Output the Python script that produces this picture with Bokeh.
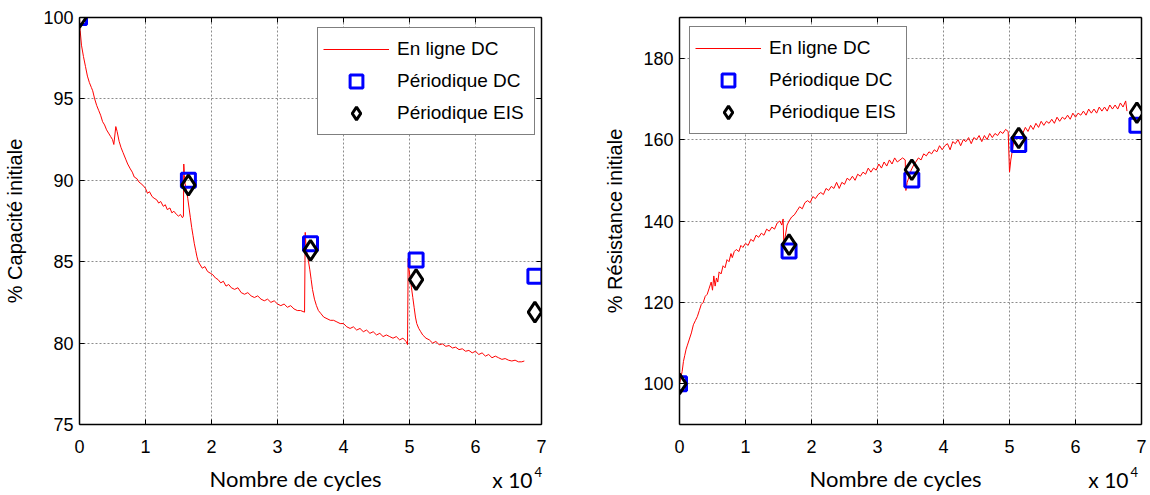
from bokeh.plotting import figure
from bokeh.layouts import row, column
from bokeh.models import (LinearAxis, Label, Legend, LegendItem, FixedTicker, Range1d,
                          CustomJSTickFormatter)
from bokeh.embed import file_html
from bokeh.resources import INLINE

# ---------------- data (x in units of 10^4 cycles) ----------------
cap_line_x = [0, 0.01, 0.03, 0.06, 0.09, 0.12, 0.15, 0.18, 0.2, 0.23, 0.26, 0.29, 0.32, 0.35, 0.38,
              0.41, 0.44, 0.47, 0.5, 0.52, 0.55, 0.57, 0.6, 0.63, 0.66, 0.7, 0.73, 0.77, 0.8, 0.83,
              0.87, 0.9, 0.93, 0.96, 1.0, 1.03, 1.06, 1.1, 1.13, 1.17, 1.2, 1.23, 1.27, 1.3, 1.33,
              1.37, 1.4, 1.43, 1.47, 1.5, 1.53, 1.56, 1.575, 1.58, 1.59, 1.6, 1.62, 1.64, 1.66, 1.68,
              1.7, 1.72, 1.74, 1.76, 1.78, 1.8, 1.83, 1.86, 1.9, 1.94, 1.98, 2.02, 2.06, 2.1, 2.14,
              2.18, 2.22, 2.26, 2.3, 2.35, 2.4, 2.45, 2.5, 2.55, 2.6, 2.65, 2.7, 2.75, 2.8, 2.85,
              2.9, 2.95, 3.0, 3.05, 3.1, 3.15, 3.2, 3.25, 3.3, 3.35, 3.41, 3.42, 3.43, 3.45, 3.47,
              3.49, 3.51, 3.53, 3.56, 3.59, 3.62, 3.66, 3.7, 3.75, 3.8, 3.85, 3.9, 3.95, 4.0, 4.05,
              4.1, 4.15, 4.2, 4.25, 4.3, 4.35, 4.4, 4.45, 4.5, 4.55, 4.6, 4.65, 4.7, 4.75, 4.8,
              4.85, 4.9, 4.95, 4.97, 4.98, 4.99, 5.01, 5.03, 5.05, 5.07, 5.09, 5.11, 5.14, 5.17,
              5.2, 5.25, 5.3, 5.35, 5.4, 5.45, 5.5, 5.55, 5.6, 5.65, 5.7, 5.75, 5.8, 5.85, 5.9,
              5.95, 6.0, 6.05, 6.1, 6.15, 6.2, 6.25, 6.3, 6.35, 6.4, 6.45, 6.5, 6.55, 6.6, 6.65,
              6.7, 6.74]
cap_line_y = [100, 99.2, 98.3, 97.6, 97.0, 96.4, 96.0, 95.7, 95.5, 95.0, 94.6, 94.3, 94.0, 93.6, 93.4,
              93.1, 92.9, 92.7, 92.5, 92.2, 93.3, 93.0, 92.4, 92.0, 91.7, 91.3, 91.0, 90.7, 90.5, 90.2,
              90.1, 89.9, 89.8, 89.7, 89.5, 89.2, 89.3, 89.0, 88.9, 88.8, 88.6, 88.7, 88.4, 88.5, 88.2,
              88.3, 88.0, 88.1, 87.9, 87.8, 87.9, 87.7, 87.8, 91.0, 90.3, 89.8, 89.4, 88.9, 88.3, 87.7,
              87.1, 86.6, 86.1, 85.7, 85.3, 85.0, 84.8, 84.6, 84.7, 84.4, 84.3, 84.2, 84.0, 83.9, 83.7,
              83.8, 83.5, 83.6, 83.4, 83.3, 83.4, 83.1, 83.0, 83.1, 82.9, 82.8, 82.9, 82.7, 82.6, 82.7,
              82.5, 82.6, 82.4, 82.3, 82.4, 82.2, 82.3, 82.1, 82.0, 82.0, 81.9, 86.8, 86.1, 85.5, 85.0,
              84.5, 83.9, 83.3, 82.7, 82.3, 82.0, 81.8, 81.6, 81.5, 81.4, 81.4, 81.3, 81.2, 81.2, 81.0,
              80.9, 81.0, 80.8, 80.9, 80.7, 80.8, 80.6, 80.7, 80.5, 80.6, 80.4, 80.5, 80.4, 80.3, 80.4,
              80.2, 80.3, 80.1, 79.9, 85.2, 84.6, 84.0, 83.4, 82.8, 82.2, 81.6, 81.2, 80.9, 80.7,
              80.5, 80.3, 80.2, 80.0, 80.1, 79.9, 79.95, 79.8, 79.85, 79.7, 79.75, 79.6, 79.65, 79.5, 79.55,
              79.4, 79.5, 79.3, 79.4, 79.2, 79.3, 79.1, 79.2, 79.1, 79.0, 79.05, 78.95, 78.9, 78.95, 78.85,
              78.85, 78.9]

cap_dc_x = [0, 1.65, 3.5, 5.1, 6.9]
cap_dc_y = [100, 90.0, 86.1, 85.1, 84.1]
cap_eis_x = [0, 1.65, 3.5, 5.1, 6.9]
cap_eis_y = [100, 89.7, 85.7, 83.9, 81.9]

res_line_x = [0, 0.02, 0.04, 0.06, 0.08, 0.1, 0.12, 0.15, 0.18, 0.21, 0.24, 0.27, 0.3, 0.33, 0.36,
              0.39, 0.42, 0.45, 0.48, 0.5, 0.52, 0.54, 0.56, 0.58, 0.6, 0.63, 0.66, 0.69, 0.72, 0.75,
              0.78, 0.8, 0.83, 0.86, 0.9, 0.93, 0.96, 1.0, 1.04, 1.08, 1.12, 1.16, 1.2, 1.24, 1.28,
              1.32, 1.36, 1.4, 1.44, 1.48, 1.52, 1.55, 1.57, 1.58, 1.6, 1.63, 1.66, 1.7, 1.74, 1.78,
              1.82, 1.86, 1.9, 1.94, 1.98, 2.02, 2.06, 2.1, 2.14, 2.18, 2.22, 2.26, 2.3, 2.34, 2.38,
              2.42, 2.46, 2.5, 2.54, 2.58, 2.62, 2.66, 2.7, 2.74, 2.78, 2.82, 2.86, 2.9, 2.94, 2.98,
              3.02, 3.06, 3.1, 3.14, 3.18, 3.22, 3.26, 3.3, 3.34, 3.38, 3.42, 3.43, 3.45, 3.48, 3.51,
              3.54, 3.58, 3.62, 3.66, 3.7, 3.74, 3.78, 3.82, 3.86, 3.9, 3.94, 3.98, 4.02, 4.06, 4.1,
              4.14, 4.18, 4.22, 4.26, 4.3, 4.34, 4.38, 4.42, 4.46, 4.5, 4.54, 4.58, 4.62, 4.66, 4.7,
              4.74, 4.78, 4.82, 4.86, 4.9, 4.94, 4.98, 5.0, 5.02, 5.05, 5.08, 5.12, 5.16, 5.2, 5.24,
              5.28, 5.32, 5.36, 5.4, 5.44, 5.48, 5.52, 5.56, 5.6, 5.64, 5.68, 5.72, 5.76, 5.8, 5.84,
              5.88, 5.92, 5.96, 6.0, 6.04, 6.08, 6.12, 6.16, 6.2, 6.24, 6.28, 6.32, 6.36, 6.4, 6.44,
              6.48, 6.52, 6.56, 6.6, 6.64, 6.68, 6.72, 6.76, 6.78]
res_line_y = [100, 101.5, 103, 105.5, 107, 108.5, 109.5, 111, 112.5, 114.5, 115.5, 116.5, 118, 119.5, 120,
              121.5, 122, 123.5, 125, 123, 126.5, 124, 126, 125, 127.5, 127, 129, 128.5, 130.5, 130,
              132, 131, 132.5, 133, 132.5, 134, 133.5, 134.5, 134, 135.5, 135, 136.5, 136, 137, 136.5,
              138, 137.5, 138.5, 138, 139.5, 140, 139, 140.5, 134.5, 136, 139, 140, 141, 141.5, 142.5,
              143.5, 143, 144.5, 145, 144.5, 146, 145.5, 146.5, 147, 146.5, 148, 147.5, 148.5, 148, 149.5,
              148, 149.5, 149, 150.5, 150, 151, 150, 151.5, 151, 152, 151.5, 153, 152, 153, 152.5,
              154, 153, 154.5, 153.5, 155, 154, 155.5, 154.5, 155, 155.5, 155, 147.5, 149.5, 151, 152.5,
              153.5, 154.5, 155.5, 155, 156.5, 156, 157, 156.5, 157.5, 157, 158.5, 157.5, 158.5, 159, 157.5,
              159.5, 159, 160, 158.5, 160, 159.5, 160.5, 159, 160.5, 160, 161, 159.5, 161, 160, 161.5,
              160.5, 161.5, 161, 162, 161.5, 162.5, 162, 152, 155, 158, 161, 162, 162.5, 161.5, 163,
              162, 163.5, 162.5, 164, 163, 164.5, 163.5, 164.5, 164, 165, 164, 165.5, 164.5, 165.5, 165,
              166, 165, 166.5, 165.5, 166.5, 166, 167, 166, 167.5, 166.5, 167.5, 166.5, 168, 167, 168,
              167, 168.5, 167.5, 168.5, 167.5, 169, 168, 169.5, 167]

res_dc_x = [0, 1.66, 3.52, 5.14, 6.93]
res_dc_y = [100, 132.6, 150.1, 158.8, 163.5]
res_eis_x = [0, 1.66, 3.52, 5.14, 6.93]
res_eis_y = [100, 134.2, 152.6, 160.4, 166.6]

x_ticks = [0, 1, 2, 3, 4, 5, 6, 7]
cap_ticks = [75, 80, 85, 90, 95, 100]
res_ticks = [100, 120, 140, 160, 180]

labels = ["En ligne DC", "Périodique DC", "Périodique EIS"]
x_title = "Nombre de cycles"
x_scale_text = "x 10"
x_scale_exp = "4"

TICK_FONT = "Liberation Sans"
XLABEL_FONT = "Lato"
H = 462       # height of the two plot panels
STRIP_H = 32  # strip below them with the x titles


def make_panel(width, border_left, border_right, y_range, y_ticks, ylabel,
               lx, ly, sx, sy, ex, ey, legend_loc):
    p = figure(width=width, height=H, output_backend="svg", toolbar_location=None,
               x_range=Range1d(0, 7), y_range=Range1d(*y_range),
               min_border_left=border_left, min_border_right=border_right,
               min_border_top=17, min_border_bottom=H - 17 - 407,
               y_axis_label=ylabel)
    p.outline_line_color = None
    p.background_fill_color = "white"
    p.border_fill_color = "white"

    for ax, ticks in ((p.xaxis[0], x_ticks), (p.yaxis[0], y_ticks)):
        ax.ticker = FixedTicker(ticks=ticks)
        ax.major_tick_in = 5
        ax.major_tick_out = 0
        ax.minor_tick_line_color = None
        ax.axis_line_width = 1.5
        ax.axis_line_color = "black"
        ax.major_tick_line_color = "black"
        ax.major_label_text_font = TICK_FONT
        ax.major_label_text_font_size = "18px"
        ax.major_label_text_color = "black"
        ax.axis_label_text_color = "black"
        ax.axis_label_text_font_style = "normal"
    p.xaxis[0].major_label_standoff = 15
    p.yaxis[0].major_label_standoff = 6
    p.yaxis[0].axis_label_text_font = TICK_FONT
    p.yaxis[0].axis_label_text_font_size = "20px"
    p.yaxis[0].axis_label_standoff = 14

    for loc, ticks in (("above", x_ticks), ("right", y_ticks)):
        ax = LinearAxis(ticker=FixedTicker(ticks=ticks),
                        formatter=CustomJSTickFormatter(code="return ''"))
        ax.major_tick_in = 5
        ax.major_tick_out = 0
        ax.minor_tick_line_color = None
        ax.axis_line_width = 1.5
        ax.axis_line_color = "black"
        ax.major_tick_line_color = "black"
        ax.major_label_standoff = 0
        p.add_layout(ax, loc)

    for g in (p.xgrid[0], p.ygrid[0]):
        g.grid_line_color = "#8c8c8c"
        g.grid_line_dash = "2 2"
        g.grid_line_width = 1
    p.xgrid[0].ticker = FixedTicker(ticks=x_ticks)
    p.ygrid[0].ticker = FixedTicker(ticks=y_ticks)

    r_line = p.line(lx, ly, line_color="#ff0000", line_width=1)
    r_sq = p.scatter(sx, sy, marker="square", size=14, fill_color=None,
                     line_color="#0000ff", line_width=3)
    r_di = p.scatter(ex, ey, marker="diamond", size=20, fill_color=None,
                     line_color="black", line_width=3)

    legend = Legend(items=[LegendItem(label=labels[0], renderers=[r_line]),
                           LegendItem(label=labels[1], renderers=[r_sq]),
                           LegendItem(label=labels[2], renderers=[r_di])],
                    location=legend_loc)
    legend.border_line_color = "black"
    legend.border_line_width = 1.5
    legend.background_fill_color = "white"
    legend.background_fill_alpha = 1
    legend.label_text_font = TICK_FONT
    legend.label_text_font_size = "19px"
    legend.label_text_color = "black"
    legend.glyph_width = 66
    legend.glyph_height = 32
    legend.label_height = 32
    legend.label_width = 132
    legend.label_standoff = 8
    legend.spacing = 0
    legend.padding = 5
    legend.margin = 0
    p.add_layout(legend)
    return p


p1 = make_panel(600, 79, 59, (75, 100), cap_ticks, "% Capacité initiale",
                cap_line_x, cap_line_y, cap_dc_x, cap_dc_y, cap_eis_x, cap_eis_y,
                (238, 289))
p2 = make_panel(549, 79, 8, (90, 190), res_ticks, "% Résistance initiale",
                res_line_x, res_line_y, res_dc_x, res_dc_y, res_eis_x, res_eis_y,
                (10, 290))

# strip below the panels carrying the x titles (pixel coordinates of the strip)
strip = figure(width=1149, height=STRIP_H, output_backend="svg", toolbar_location=None,
               x_range=Range1d(0, 1149), y_range=Range1d(0, STRIP_H),
               min_border=0, outline_line_color=None)
strip.axis.visible = False
strip.grid.visible = False
strip.background_fill_color = "white"
strip.border_fill_color = "white"

for cx, right_edge in ((295, 532), (895, 1128)):
    strip.add_layout(Label(x=cx, y=16, text=x_title, text_align="center",
                           text_baseline="middle", text_font=XLABEL_FONT,
                           text_font_size="22px", text_color="black"))
    strip.add_layout(Label(x=right_edge, y=15, text=x_scale_text, text_align="right",
                           text_baseline="middle", text_font=XLABEL_FONT,
                           text_font_size="21px", text_color="black"))
    strip.add_layout(Label(x=right_edge + 2, y=23, text=x_scale_exp, text_align="left",
                           text_baseline="middle", text_font=XLABEL_FONT,
                           text_font_size="13px", text_color="black"))

layout = column(row(p1, p2), strip)
open("out.html", "w").write(file_html(layout, INLINE))
